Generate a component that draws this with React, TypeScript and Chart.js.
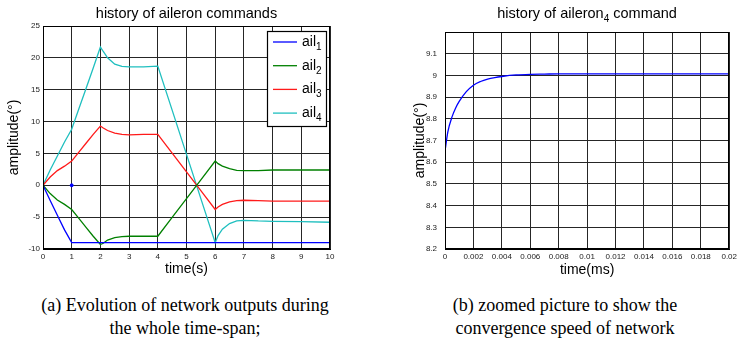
import React, { useEffect, useRef } from "react";
import { Chart, registerables } from "chart.js";

Chart.register(...registerables);

const FONT = "'Liberation Sans', Arial, Helvetica, sans-serif";
Chart.defaults.font.family = FONT;

// ---------- Data: (a) whole time-span ----------
const timeS = [0, 0.25, 0.5, 0.75, 1, 1.25, 1.5, 1.75, 2, 2.1, 2.25, 2.5, 2.75, 3, 3.5, 4, 4.5, 5, 5.5, 6, 6.1, 6.25, 6.5, 6.75, 7, 7.5, 8, 9, 10];
const ail1 = [0, -2.4, -4.7, -7.0, -9, -9, -9, -9, -9, -9, -9, -9, -9, -9, -9, -9, -9, -9, -9, -9, -9, -9, -9, -9, -9, -9, -9, -9, -9];
const ail2 = [0, -1.3, -2.3, -3.0, -3.8, -5.2, -6.6, -8.0, -9.3, -9.1, -8.6, -8.2, -8.05, -8.0, -8.0, -8.0, -5.05, -2.1, 0.85, 3.8, 3.4, 3.0, 2.6, 2.35, 2.3, 2.3, 2.4, 2.4, 2.4];
const ail3 = [0, 1.3, 2.3, 3.0, 3.8, 5.2, 6.6, 8.0, 9.3, 9.0, 8.6, 8.2, 8.0, 7.9, 8.0, 8.0, 5.05, 2.1, -0.85, -3.8, -3.4, -3.0, -2.6, -2.4, -2.35, -2.4, -2.5, -2.5, -2.5];
const ail4 = [0, 2.4, 4.6, 6.8, 8.8, 12.0, 15.2, 18.4, 21.7, 21.0, 20.0, 19.0, 18.65, 18.6, 18.6, 18.7, 11.8, 4.85, -2.1, -9.0, -7.9, -6.9, -6.0, -5.6, -5.5, -5.6, -5.65, -5.7, -5.8];
const seriesNames = ["ail1", "ail2", "ail3", "ail4"];
const markerTime = [1];
const markerValue = [0];

// ---------- Data: (b) zoomed aileron4 ----------
const timeMs = [0, 0.0002, 0.0005, 0.00075, 0.001, 0.0015, 0.002, 0.0025, 0.003, 0.0035, 0.004, 0.005, 0.006, 0.007, 0.008, 0.01, 0.015, 0.02];
const ail4Zoom = [8.65, 8.74, 8.81, 8.85, 8.88, 8.925, 8.955, 8.972, 8.983, 8.99, 8.995, 9.002, 9.005, 9.006, 9.007, 9.007, 9.007, 9.007];

const captionA = ["(a) Evolution of network outputs during", "the whole time-span;"];
const captionB = ["(b) zoomed picture to show the", "convergence speed of network"];

const colors = ["#0000ff", "#008000", "#ff1a1a", "#1fbfbf"];

type Part = { t: string; sub?: boolean };

function partsWidth(ctx: CanvasRenderingContext2D, parts: Part[], size: number) {
  let w = 0;
  for (const p of parts) {
    ctx.font = `${p.sub ? Math.round(size * 0.68) : size}px ${FONT}`;
    w += ctx.measureText(p.t).width;
  }
  return w;
}

function drawParts(ctx: CanvasRenderingContext2D, parts: Part[], x: number, y: number, size: number) {
  let cx = x;
  ctx.textAlign = "left";
  ctx.textBaseline = "middle";
  for (const p of parts) {
    ctx.font = `${p.sub ? Math.round(size * 0.68) : size}px ${FONT}`;
    ctx.fillText(p.t, cx, p.sub ? y + size * 0.38 : y);
    cx += ctx.measureText(p.t).width;
  }
}

const decorPlugin = {
  id: "decor",
  afterDraw(chart: any, _args: any, opts: any) {
    const ctx: CanvasRenderingContext2D = chart.ctx;
    const ca = chart.chartArea;
    ctx.save();
    // box around axes
    ctx.strokeStyle = "#000";
    ctx.lineWidth = 1;
    const l = Math.round(ca.left) + 0.5;
    const t = Math.round(ca.top) + 0.5;
    const r = Math.round(ca.right) - 0.5;
    const b = Math.round(ca.bottom) - 0.5;
    ctx.strokeRect(l, t, r - l, b - t);
    // title
    ctx.fillStyle = "#000";
    if (opts.title) {
      const size = 14.5;
      const w = partsWidth(ctx, opts.title, size);
      drawParts(ctx, opts.title, (ca.left + ca.right) / 2 - w / 2, opts.titleY ?? 14, size);
    }
    // legend
    if (opts.legend) {
      const items = chart.data.datasets.filter((d: any) => d.inLegend);
      const bw = 59;
      const rowH = 23.7;
      const bh = 95;
      const bx = ca.right - 4 - bw;
      const by = ca.top + 5;
      ctx.fillStyle = "#fff";
      ctx.fillRect(bx, by, bw, bh);
      ctx.strokeStyle = "#000";
      ctx.lineWidth = 1.2;
      ctx.strokeRect(Math.round(bx) + 0.5, Math.round(by) + 0.5, bw, bh);
      items.forEach((d: any, i: number) => {
        const y = by + 11 + i * rowH;
        ctx.strokeStyle = d.borderColor;
        ctx.lineWidth = 1.3;
        ctx.beginPath();
        ctx.moveTo(bx + 6, y);
        ctx.lineTo(bx + 30, y);
        ctx.stroke();
        ctx.fillStyle = "#000";
        const name: string = d.label;
        drawParts(ctx, [{ t: name.slice(0, -1) }, { t: name.slice(-1), sub: true }], bx + 35, y, 14);
      });
    }
    ctx.restore();
  },
};

const tickFont = { size: 8, family: FONT };
const axisTitleFont = { size: 14, family: FONT };
const gridColor = "#262626";

const leftConfig: any = {
  type: "line",
  data: {
    datasets: [
      ...[ail1, ail2, ail3, ail4].map((vals, i) => ({
        label: seriesNames[i],
        inLegend: true,
        data: timeS.map((t, j) => ({ x: t, y: vals[j] })),
        borderColor: colors[i],
        backgroundColor: colors[i],
        borderWidth: 1.3,
        pointRadius: 0,
        tension: 0,
      })),
      {
        label: "marker",
        data: markerTime.map((t, j) => ({ x: t, y: markerValue[j] })),
        borderColor: colors[0],
        backgroundColor: colors[0],
        pointRadius: 1.5,
        borderWidth: 1,
        showLine: false,
      },
    ],
  },
  options: {
    responsive: false,
    animation: false,
    devicePixelRatio: 1,
    layout: { padding: { top: 26, right: 40, left: 0, bottom: 0 } },
    plugins: {
      legend: { display: false },
      tooltip: { enabled: false },
      decor: { title: [{ t: "history of aileron commands" }], titleY: 14, legend: true },
    },
    scales: {
      x: {
        type: "linear",
        min: 0,
        max: 10,
        ticks: { stepSize: 1, font: tickFont, color: "#222", padding: 3, maxRotation: 0 },
        grid: { color: gridColor, drawTicks: false },
        border: { color: "#000" },
        title: { display: true, text: "time(s)", font: axisTitleFont, color: "#000", padding: { top: 0, bottom: 2 } },
        afterFit: (s: any) => {
          s.height = 31;
        },
      },
      y: {
        min: -10,
        max: 25,
        ticks: { stepSize: 5, font: tickFont, color: "#222", padding: 3 },
        grid: { color: gridColor, drawTicks: false },
        border: { color: "#000" },
        title: { display: true, text: "amplitude(°)", font: axisTitleFont, color: "#000", padding: { top: 6, bottom: 0 } },
        afterFit: (s: any) => {
          s.width = 43;
        },
      },
    },
  },
  plugins: [decorPlugin],
};

const rightConfig: any = {
  type: "line",
  data: {
    datasets: [
      {
        label: "aileron4",
        data: timeMs.map((t, j) => ({ x: t, y: ail4Zoom[j] })),
        borderColor: colors[0],
        borderWidth: 1.3,
        pointRadius: 0,
        cubicInterpolationMode: "monotone",
      },
    ],
  },
  options: {
    responsive: false,
    animation: false,
    devicePixelRatio: 1,
    layout: { padding: { top: 32, right: 9, left: 0, bottom: 0 } },
    plugins: {
      legend: { display: false },
      tooltip: { enabled: false },
      decor: {
        title: [{ t: "history of aileron" }, { t: "4", sub: true }, { t: " command" }],
        titleY: 14,
        legend: false,
      },
    },
    scales: {
      x: {
        type: "linear",
        min: 0,
        max: 0.02,
        ticks: {
          stepSize: 0.002,
          font: tickFont,
          color: "#222",
          padding: 3,
          maxRotation: 0,
          autoSkip: false,
          callback: (v: number) => String(parseFloat(Number(v).toFixed(4))),
        },
        grid: { color: gridColor, drawTicks: false },
        border: { color: "#000" },
        title: { display: true, text: "time(ms)", font: axisTitleFont, color: "#000", padding: { top: 0, bottom: 1 } },
        afterFit: (s: any) => {
          s.height = 31;
        },
      },
      y: {
        min: 8.2,
        max: 9.2,
        ticks: {
          stepSize: 0.1,
          font: tickFont,
          color: "#222",
          padding: 8,
          callback: (v: number) => (v > 9.15 ? "" : String(parseFloat(Number(v).toFixed(2)))),
        },
        grid: { color: gridColor, drawTicks: false },
        border: { color: "#000" },
        title: { display: true, text: "amplitude(°)", font: axisTitleFont, color: "#000", padding: { top: 42, bottom: 0 } },
        afterFit: (s: any) => {
          s.width = 75;
        },
      },
    },
  },
  plugins: [decorPlugin],
};

function ChartCanvas({ config, left }: { config: any; left: number }) {
  const ref = useRef<HTMLCanvasElement>(null);
  useEffect(() => {
    const chart = new Chart(ref.current as HTMLCanvasElement, config);
    return () => chart.destroy();
  }, [config]);
  return (
    <div style={{ position: "absolute", left, top: 0, width: 370, height: 280 }}>
      <canvas ref={ref} width={370} height={280} style={{ width: 370, height: 280, display: "block" }} />
    </div>
  );
}

function Caption({ lines, center }: { lines: string[]; center: number }) {
  return (
    <div
      style={{
        position: "absolute",
        left: center - 200,
        width: 400,
        top: 294,
        textAlign: "center",
        fontFamily: "'Liberation Serif', 'Times New Roman', serif",
        fontSize: 18,
        lineHeight: "23px",
        color: "#000",
      }}
    >
      {lines.map((l, i) => (
        <div key={i}>{l}</div>
      ))}
    </div>
  );
}

export default function App() {
  return (
    <div style={{ position: "absolute", left: 0, top: 0, width: 740, height: 352, background: "#fff", overflow: "hidden" }}>
      <ChartCanvas config={leftConfig} left={0} />
      <ChartCanvas config={rightConfig} left={370} />
      <Caption lines={captionA} center={185} />
      <Caption lines={captionB} center={565} />
    </div>
  );
}
